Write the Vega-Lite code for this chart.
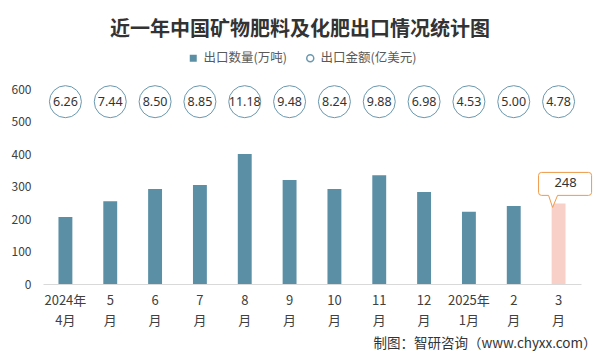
{
  "$schema": "https://vega.github.io/schema/vega-lite/v6.json",
  "width": 538,
  "height": 195,
  "autosize": {"type": "none"},
  "padding": {"left": 43, "top": 89, "right": 21, "bottom": 72},
  "background": "white",
  "config": {
    "view": {"stroke": null},
    "font": "Noto Sans CJK SC",
    "axisY": {
      "values": [0, 100, 200, 300, 400, 500, 600],
      "domain": false,
      "ticks": false,
      "grid": false,
      "labelFontSize": 12,
      "labelColor": "#404040",
      "labelPadding": 12,
      "labelOverlap": false,
      "title": null
    },
    "legend": {
      "title": null,
      "orient": "none",
      "labelFontSize": 12.5,
      "labelColor": "#595959",
      "labelOffset": 4,
      "symbolSize": 49,
      "symbolOpacity": 1
    }
  },
  "title": {
    "text": "近一年中国矿物肥料及化肥出口情况统计图",
    "fontSize": 20,
    "fontWeight": "bold",
    "color": "#333333",
    "anchor": "middle",
    "frame": "group",
    "baseline": "middle",
    "offset": 2.5,
    "dx": -12
  },
  "data": {
    "values": [
      {"month": "2024年\n4月", "qty": 206, "amount": 6.26},
      {"month": "5\n月", "qty": 255, "amount": 7.44},
      {"month": "6\n月", "qty": 292, "amount": 8.50},
      {"month": "7\n月", "qty": 305, "amount": 8.85},
      {"month": "8\n月", "qty": 400, "amount": 11.18},
      {"month": "9\n月", "qty": 320, "amount": 9.48},
      {"month": "10\n月", "qty": 292, "amount": 8.24},
      {"month": "11\n月", "qty": 335, "amount": 9.88},
      {"month": "12\n月", "qty": 283, "amount": 6.98},
      {"month": "2025年\n1月", "qty": 222, "amount": 4.53},
      {"month": "2\n月", "qty": 240, "amount": 5.00},
      {"month": "3\n月", "qty": 248, "amount": 4.78}
    ]
  },
  "encoding": {
    "x": {
      "field": "month",
      "type": "nominal",
      "sort": null,
      "scale": {"paddingInner": 0.69, "paddingOuter": 0.345},
      "axis": {
        "labelAngle": 0,
        "labelExpr": "split(datum.label, '\\n')",
        "labelFontSize": 13,
        "labelColor": "#404040",
        "labelBaseline": "top",
        "labelPadding": 10,
        "labelLineHeight": 20,
        "ticks": false,
        "domainColor": "#d9d9d9",
        "domainWidth": 1,
        "grid": false,
        "title": "制图：智研咨询（www.chyxx.com）",
        "titleFontSize": 13.5,
        "titleFontWeight": "normal",
        "titleColor": "#333333",
        "titleAnchor": "end",
        "titleAlign": "right",
        "titleBaseline": "middle",
        "titleX": 553,
        "titleY": 59
      }
    }
  },
  "layer": [
    {
      "transform": [{"filter": "datum.month != '3\\n月'"}],
      "mark": {"type": "bar", "opacity": 1},
      "encoding": {
        "y": {
          "field": "qty",
          "type": "quantitative",
          "scale": {"domain": [0, 600]}
        },
        "fill": {
          "datum": "出口数量(万吨)",
          "scale": {"range": ["#5b8fa6"]},
          "legend": {"legendX": 144, "legendY": -37, "symbolType": "square"}
        }
      }
    },
    {
      "transform": [{"filter": "datum.month == '3\\n月'"}],
      "mark": {"type": "bar", "fill": "#f8d0c8", "opacity": 1},
      "encoding": {
        "y": {"field": "qty", "type": "quantitative"}
      }
    },
    {
      "mark": {"type": "point", "filled": false, "size": 1024, "strokeWidth": 1, "opacity": 1},
      "encoding": {
        "y": {"datum": 561, "type": "quantitative"},
        "stroke": {
          "datum": "出口金额(亿美元)",
          "scale": {"range": ["#6a98ae"]},
          "legend": {
            "legendX": 261,
            "legendY": -37,
            "symbolType": "circle",
            "symbolStrokeColor": "#9bb6c4",
            "symbolStrokeWidth": 1.5,
            "symbolFillColor": "transparent"
          }
        }
      }
    },
    {
      "mark": {"type": "text", "fontSize": 12.5, "color": "#333333", "font": "Noto Sans"},
      "encoding": {
        "y": {"datum": 561, "type": "quantitative"},
        "text": {"field": "amount", "type": "quantitative", "format": ".2f"}
      }
    },
    {
      "transform": [{"filter": "datum.month == '3\\n月'"}],
      "mark": {
        "type": "point",
        "filled": true,
        "shape": "M-0.567,-1.033 L1.0,-1.033 Q1.1,-1.033 1.1,-0.933 L1.1,-0.367 Q1.1,-0.267 1.0,-0.267 L-0.033,-0.267 L-0.2,0.133 L-0.333,-0.267 L-0.567,-0.267 Q-0.667,-0.267 -0.667,-0.367 L-0.667,-0.933 Q-0.667,-1.033 -0.567,-1.033 Z",
        "size": 3600,
        "fill": "white",
        "stroke": "#ee9a4a",
        "strokeWidth": 1,
        "opacity": 1
      },
      "encoding": {
        "y": {"field": "qty", "type": "quantitative"}
      }
    },
    {
      "transform": [{"filter": "datum.month == '3\\n月'"}],
      "mark": {"type": "text", "fontSize": 13, "color": "#333333", "font": "Noto Sans", "dx": 7, "dy": -20},
      "encoding": {
        "y": {"field": "qty", "type": "quantitative"},
        "text": {"field": "qty", "type": "quantitative"}
      }
    }
  ]
}
